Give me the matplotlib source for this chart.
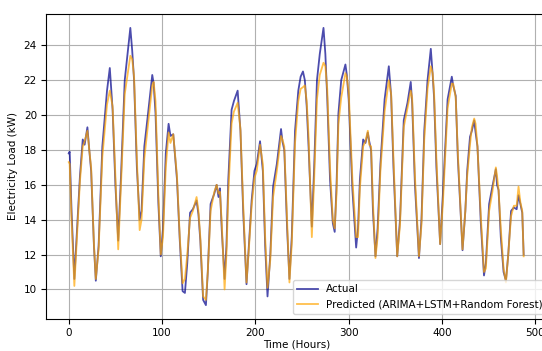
import matplotlib
matplotlib.use("Agg")
import matplotlib.pyplot as plt

hours = [0, 1, 3, 6, 9, 12, 15, 17, 20, 22, 24, 27, 29, 32, 36, 41, 44, 47, 50, 53,
         56, 60, 66, 68, 70, 73, 76, 78, 81, 85, 89.5, 91, 93, 96, 98.6, 101, 104, 107, 109, 112,
         116, 119, 122, 124.5, 127, 130, 133, 137, 139, 141, 144, 147, 149, 152, 156, 158.5, 160.5, 162, 164, 167,
         169, 171, 174.5, 177, 181, 184, 187, 190.5, 193, 196, 199, 201.5, 205, 208, 210.5, 213, 216, 219, 223, 227.5,
         229, 231, 234, 236.5, 239, 242.5, 246, 248.5, 251, 253, 255, 257, 260.5, 263, 266, 269, 273, 275, 277, 280,
         283, 285, 287, 289, 292, 296.5, 298, 300, 304, 308, 310, 312, 315.5, 318, 320.5, 322, 324, 326, 328.7, 331,
         334, 338.5, 343, 345.5, 348, 352, 355, 359, 363, 366.5, 368, 371, 375.3, 378, 381, 384.5, 388, 390, 391.5, 394,
         398, 401, 406, 410.5, 412, 414.7, 417, 422, 425, 427, 430, 432, 434.5, 436, 438, 441.6, 445, 447, 450.5, 454,
         457.7, 459, 460.6, 463, 466, 468.5, 471, 474, 477, 480, 482, 484, 486, 487.5]

actual = [17.8, 17.9, 14.5, 10.6, 13.5, 16.5, 18.6, 18.3, 19.3, 18.0, 16.8, 12.5, 10.5, 12.5, 18.2, 21.4, 22.7, 20.3, 16.0, 12.8,
          16.5, 22.0, 25.0, 23.7, 22.0, 17.0, 14.0, 14.5, 18.2, 20.1, 22.3, 21.8, 20.1, 15.0, 11.9, 13.5, 17.8, 19.5, 18.8, 18.9,
          16.3, 12.8, 9.9, 9.8, 11.5, 14.4, 14.6, 15.1, 14.3, 12.8, 9.4, 9.1, 11.0, 14.9, 15.5, 16.0, 15.3, 15.8, 13.4, 10.6,
          12.5, 16.3, 20.3, 20.8, 21.4, 19.1, 14.4, 10.3, 12.5, 15.1, 16.8, 17.2, 18.5, 16.8, 12.5, 9.6, 12.0, 15.9, 17.2, 19.2,
          18.5, 18.0, 13.5, 10.6, 13.0, 19.1, 21.4, 22.2, 22.5, 22.0, 20.5, 18.2, 13.6, 17.0, 22.0, 23.5, 25.0, 23.5, 21.0, 16.3,
          13.8, 13.3, 16.0, 20.1, 22.0, 22.9, 22.3, 20.9, 15.7, 12.4, 13.5, 16.3, 18.6, 18.4, 19.0, 18.5, 18.0, 14.5, 11.9, 13.5,
          17.2, 20.9, 22.8, 21.1, 17.0, 11.9, 14.0, 19.7, 20.7, 21.9, 20.7, 16.0, 11.8, 14.0, 19.1, 22.0, 23.8, 22.3, 21.0, 17.0,
          12.6, 15.5, 20.9, 22.2, 21.7, 21.1, 17.5, 12.25, 14.5, 16.8, 18.75, 19.1, 19.7, 19.0, 18.2, 13.8, 10.8, 11.5, 14.9, 15.9,
          16.9, 16.0, 15.7, 13.0, 11.0, 10.5, 12.0, 14.5, 14.7, 14.6, 15.4, 14.9, 14.4, 12.0]

predicted = [17.3, 17.2, 14.0, 10.2, 13.2, 16.2, 18.2, 18.5, 19.1, 18.0, 17.0, 12.6, 10.6, 12.3, 17.6, 20.6, 21.4, 20.5, 16.5, 12.3,
             16.0, 21.2, 23.4, 23.2, 22.2, 17.5, 13.4, 14.0, 17.5, 19.5, 21.7, 21.9, 20.8, 15.5, 12.0, 13.0, 17.0, 19.0, 18.4, 18.9,
             16.5, 13.0, 10.35, 10.6, 12.0, 14.1, 14.5, 15.3, 14.5, 13.0, 9.6, 9.4, 11.0, 14.5, 15.6, 16.0, 15.5, 15.6, 13.8, 10.0,
             12.0, 15.5, 19.5, 20.2, 20.7, 19.2, 14.8, 10.4, 12.3, 14.8, 16.4, 16.8, 18.3, 17.2, 13.0, 10.1, 11.7, 15.3, 16.8, 18.8,
             18.6, 18.2, 14.0, 10.4, 12.6, 18.4, 20.8, 21.5, 21.6, 21.7, 20.8, 18.8, 13.0, 16.3, 20.9, 22.3, 23.0, 22.8, 21.5, 17.0,
             14.0, 13.5, 15.5, 19.5, 21.0, 22.4, 22.2, 21.3, 16.3, 13.0, 13.0, 15.8, 18.2, 18.5, 19.1, 18.3, 18.2, 15.0, 11.8, 13.0,
             16.8, 20.2, 22.0, 21.2, 17.5, 11.9, 13.7, 19.3, 20.4, 21.4, 21.0, 16.5, 11.9, 13.7, 18.6, 21.5, 22.8, 22.4, 21.3, 17.5,
             12.6, 15.0, 20.4, 21.8, 21.8, 21.0, 17.8, 12.3, 14.5, 16.5, 18.3, 19.3, 19.8, 19.5, 18.2, 14.2, 11.0, 11.2, 14.5, 15.6,
             17.0, 16.5, 15.7, 13.5, 11.2, 10.4, 12.0, 14.2, 14.8, 14.8, 15.9, 15.0, 14.5, 11.9]

fig = plt.figure(figsize=(5.42, 3.51), dpi=100)
ax = fig.add_axes([46 / 542, 32 / 351, 500.4 / 542, 305 / 351])

ax.plot(hours, actual, color="darkblue", alpha=0.7, linewidth=1.3, label="Actual")
ax.plot(hours, predicted, color="orange", alpha=0.7, linewidth=1.3,
        label="Predicted (ARIMA+LSTM+Random Forest)")

ax.set_xlabel("Time (Hours)", fontsize=7.5, labelpad=1)
ax.set_ylabel("Electricity Load (kW)", fontsize=7.5)
ax.tick_params(labelsize=7.5, pad=3)
ax.grid(True)
ax.legend(loc="lower right", fontsize=7.5, bbox_to_anchor=(1 + 6 / 500.4, 0))

fig.savefig("out.png", dpi=100)
